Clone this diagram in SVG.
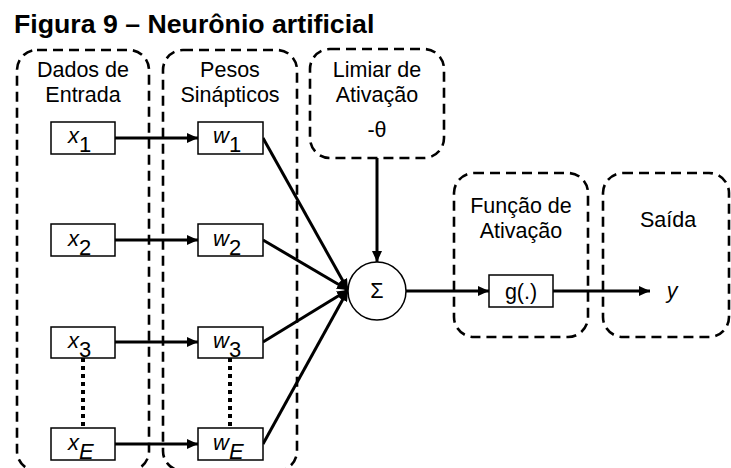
<svg xmlns="http://www.w3.org/2000/svg" width="731" height="468" viewBox="0 0 731 468">
<style>
.grp{fill:none;stroke:#000;stroke-width:2.6;stroke-dasharray:10 6}
.box{fill:#fff;stroke:#000;stroke-width:1.5}
.lbl{font-family:"Liberation Sans",Arial,sans-serif;font-size:21.5px;fill:#000;text-anchor:middle}
.nl{font-family:"Liberation Sans",Arial,sans-serif;font-size:22px;fill:#000}
.it{font-style:italic}
.con{fill:none;stroke:#000;stroke-width:3}
.dot{fill:none;stroke:#000;stroke-width:4;stroke-dasharray:4 4}
</style>
<defs>
<marker id="ah" markerUnits="userSpaceOnUse" markerWidth="12" markerHeight="10" refX="11" refY="5" orient="auto">
<path d="M0,0 L11,5 L0,10 Z" fill="#000"/>
</marker>
</defs>
<rect width="731" height="468" fill="#fff"/>
<text x="14" y="33" font-family="'Liberation Sans',Arial,sans-serif" font-size="26.7" font-weight="bold">Figura 9 – Neurônio artificial</text>

<g id="grp-entrada">
<rect class="grp" x="17" y="50" width="132" height="421" rx="20"/>
<text class="lbl" x="83" y="77">Dados de</text>
<text class="lbl" x="83" y="102">Entrada</text>
</g>
<g id="grp-pesos">
<rect class="grp" x="163" y="50" width="134" height="421" rx="20"/>
<text class="lbl" x="230" y="77">Pesos</text>
<text class="lbl" x="230" y="102">Sinápticos</text>
</g>
<g id="grp-limiar">
<rect class="grp" x="310" y="49" width="134" height="109" rx="20"/>
<text class="lbl" x="377" y="77">Limiar de</text>
<text class="lbl" x="377" y="102">Ativação</text>
<text class="lbl" x="377" y="137">-θ</text>
</g>
<g id="grp-funcao">
<rect class="grp" x="454" y="173" width="134" height="164" rx="20"/>
<text class="lbl" x="521" y="213">Função de</text>
<text class="lbl" x="521" y="238">Ativação</text>
</g>
<g id="grp-saida">
<rect class="grp" x="603" y="173" width="126" height="164" rx="20"/>
<text class="lbl" x="668" y="227">Saída</text>
</g>

<g id="connectors">
<line class="con" x1="115" y1="138" x2="198" y2="138" marker-end="url(#ah)"/>
<line class="con" x1="115" y1="240" x2="198" y2="240" marker-end="url(#ah)"/>
<line class="con" x1="115" y1="342" x2="198" y2="342" marker-end="url(#ah)"/>
<line class="con" x1="115" y1="444" x2="198" y2="444" marker-end="url(#ah)"/>
<line class="con" x1="263" y1="138" x2="348" y2="290" marker-end="url(#ah)"/>
<line class="con" x1="263" y1="240" x2="348" y2="290" marker-end="url(#ah)"/>
<line class="con" x1="263" y1="342" x2="348" y2="290" marker-end="url(#ah)"/>
<line class="con" x1="263" y1="444" x2="348" y2="290" marker-end="url(#ah)"/>
<line class="con" x1="377" y1="158" x2="377" y2="262" marker-end="url(#ah)"/>
<line class="con" x1="406" y1="291" x2="489" y2="291" marker-end="url(#ah)"/>
<line class="con" x1="553" y1="291" x2="650" y2="291" marker-end="url(#ah)"/>
<line class="dot" x1="83" y1="358" x2="83" y2="428"/>
<line class="dot" x1="230" y1="358" x2="230" y2="428"/>
</g>

<g id="x1"><rect class="box" x="51" y="122" width="64" height="32"/><text class="nl" x="68" y="143"><tspan class="it">x</tspan><tspan dy="9">1</tspan></text></g>
<g id="x2"><rect class="box" x="51" y="224" width="64" height="32"/><text class="nl" x="68" y="246"><tspan class="it">x</tspan><tspan dy="9">2</tspan></text></g>
<g id="x3"><rect class="box" x="51" y="327" width="64" height="31"/><text class="nl" x="68" y="348"><tspan class="it">x</tspan><tspan dy="9">3</tspan></text></g>
<g id="xE"><rect class="box" x="51" y="428" width="64" height="32"/><text class="nl" x="68" y="450"><tspan class="it">x</tspan><tspan class="it" dy="9">E</tspan></text></g>
<g id="w1"><rect class="box" x="198" y="122" width="65" height="32"/><text class="nl" x="213" y="143"><tspan class="it">w</tspan><tspan dy="9">1</tspan></text></g>
<g id="w2"><rect class="box" x="198" y="224" width="65" height="32"/><text class="nl" x="213" y="246"><tspan class="it">w</tspan><tspan dy="9">2</tspan></text></g>
<g id="w3"><rect class="box" x="198" y="327" width="65" height="31"/><text class="nl" x="213" y="348"><tspan class="it">w</tspan><tspan dy="9">3</tspan></text></g>
<g id="wE"><rect class="box" x="198" y="428" width="65" height="32"/><text class="nl" x="213" y="450"><tspan class="it">w</tspan><tspan class="it" dy="9">E</tspan></text></g>
<g id="sigma"><circle cx="377" cy="291" r="29" fill="#fff" stroke="#000" stroke-width="1.5"/><text class="lbl" x="377" y="298">Σ</text></g>
<g id="g"><rect class="box" x="489" y="275" width="64" height="32"/><text class="lbl" x="521" y="299">g(.)</text></g>
<g id="y"><text class="lbl it" x="672" y="298">y</text></g>
</svg>
